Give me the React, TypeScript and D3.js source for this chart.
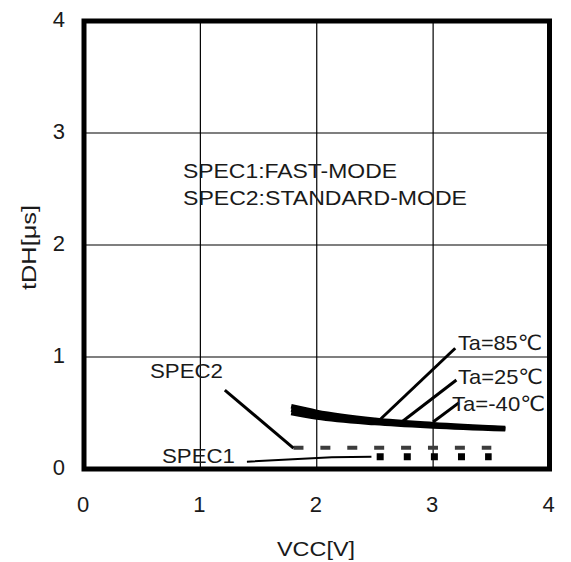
import React from 'react';
import * as d3 from 'd3';

// ---- data ----
const vcc = [1.78, 2.0, 2.5, 3.0, 3.62];
const ta85 = [0.56, 0.51, 0.44, 0.4, 0.365];
const ta25 = [0.53, 0.485, 0.425, 0.39, 0.36];
const taM40 = [0.5, 0.46, 0.41, 0.38, 0.355];
const spec1X = [2.515, 3.503];
const spec1Y = [0.11, 0.11];
const spec2X = [1.8, 3.5];
const spec2Y = [0.19, 0.19];
const xTicks = [0, 1, 2, 3, 4];
const yTicks = [0, 1, 2, 3, 4];
const xTickLabels = ['0', '1', '2', '3', '4'];
const yTickLabels = ['0', '1', '2', '3', '4'];

const FONT = '"Liberation Sans", Arial, "DejaVu Sans", sans-serif';

export default function App() {
  const W = 571;
  const H = 562;
  const x = d3.scaleLinear().domain([0, 4]).range([84, 549.5]);
  const y = d3.scaleLinear().domain([0, 4]).range([469, 21]);

  const line = d3
    .line<[number, number]>()
    .x((d) => x(d[0]))
    .y((d) => y(d[1]))
    .curve(d3.curveMonotoneX);

  const series = [ta85, ta25, taM40];

  const seg = (x1: number, y1: number, x2: number, y2: number) => ({
    x1: x(x1),
    y1: y(y1),
    x2: x(x2),
    y2: y(y2),
  });

  const leaders = [
    seg(2.54, 0.4375, 3.19, 1.078),
    seg(2.73, 0.42, 3.2, 0.795),
    seg(3.0, 0.42, 3.22, 0.59),
    seg(1.21, 0.705, 1.8, 0.186),
  ];
  const spec1Leader = [
    [1.4, 0.065],
    [2.13, 0.105],
    [2.47, 0.11],
  ] as [number, number][];

  const txt = {
    fontFamily: FONT,
    fill: '#1a1a1a',
  } as React.CSSProperties;

  return (
    <svg width={W} height={H} style={{ position: 'absolute', left: 0, top: 0 }}>
      <rect x={0} y={0} width={W} height={H} fill="#fff" />
      {/* grid */}
      {xTicks.slice(1, -1).map((t) => (
        <line key={'gx' + t} x1={x(t)} x2={x(t)} y1={y(0)} y2={y(4)} stroke="#000" strokeWidth={1.2} />
      ))}
      {yTicks.slice(1, -1).map((t) => (
        <line key={'gy' + t} y1={y(t)} y2={y(t)} x1={x(0)} x2={x(4)} stroke="#000" strokeWidth={1.2} />
      ))}

      {/* curves */}
      {series.map((s, i) => (
        <path
          key={'s' + i}
          d={line(vcc.map((v, j) => [v, s[j]] as [number, number])) || ''}
          fill="none"
          stroke="#000"
          strokeWidth={4.5}
        />
      ))}

      {/* spec lines */}
      <path
        d={line(spec2X.map((v, j) => [v, spec2Y[j]] as [number, number])) || ''}
        fill="none"
        stroke="#3c3c3c"
        strokeWidth={4}
        strokeDasharray="10,16.9"
      />
      <path
        d={line(spec1X.map((v, j) => [v, spec1Y[j]] as [number, number])) || ''}
        fill="none"
        stroke="#000"
        strokeWidth={7}
        strokeDasharray="7,20.1"
      />

      {/* leaders */}
      {leaders.map((l, i) => (
        <line key={'l' + i} {...l} stroke="#000" strokeWidth={3} />
      ))}
      <path
        d={d3.line<[number, number]>().x((d) => x(d[0])).y((d) => y(d[1]))(spec1Leader) || ''}
        fill="none"
        stroke="#000"
        strokeWidth={2}
      />

      {/* border */}
      <rect
        x={x(0)}
        y={y(4)}
        width={x(4) - x(0)}
        height={y(0) - y(4)}
        fill="none"
        stroke="#000"
        strokeWidth={5}
      />

      {/* tick labels */}
      {yTicks.map((t, i) => (
        <text key={'yt' + t} x={65} y={y(t) + 6} textAnchor="end" fontSize={22} style={txt}>
          {yTickLabels[i]}
        </text>
      ))}
      {xTicks.map((t, i) => (
        <text key={'xt' + t} x={x(t) - 1} y={512} textAnchor="middle" fontSize={22} style={txt}>
          {xTickLabels[i]}
        </text>
      ))}

      {/* axis titles */}
      <text x={277} y={556} fontSize={21} style={txt} textLength={78} lengthAdjust="spacingAndGlyphs">
        VCC[V]
      </text>
      <text
        transform="translate(36,290) rotate(-90)"
        x={0}
        y={0}
        fontSize={20}
        style={txt}
        textLength={85}
        lengthAdjust="spacingAndGlyphs"
      >
        tDH[μs]
      </text>

      {/* notes */}
      <text x={183} y={178} fontSize={20} style={txt} textLength={214} lengthAdjust="spacingAndGlyphs">
        SPEC1:FAST-MODE
      </text>
      <text x={183} y={205} fontSize={20} style={txt} textLength={284} lengthAdjust="spacingAndGlyphs">
        SPEC2:STANDARD-MODE
      </text>

      <text x={458} y={350} fontSize={21} style={txt} textLength={84} lengthAdjust="spacingAndGlyphs">
        Ta=85℃
      </text>
      <text x={458} y={384} fontSize={21} style={txt} textLength={85} lengthAdjust="spacingAndGlyphs">
        Ta=25℃
      </text>
      <text x={452} y={411} fontSize={21} style={txt} textLength={93} lengthAdjust="spacingAndGlyphs">
        Ta=-40℃
      </text>
      <text x={150} y={378} fontSize={20} style={txt} textLength={73} lengthAdjust="spacingAndGlyphs">
        SPEC2
      </text>
      <text x={162} y={463} fontSize={20} style={txt} textLength={73} lengthAdjust="spacingAndGlyphs">
        SPEC1
      </text>
    </svg>
  );
}
